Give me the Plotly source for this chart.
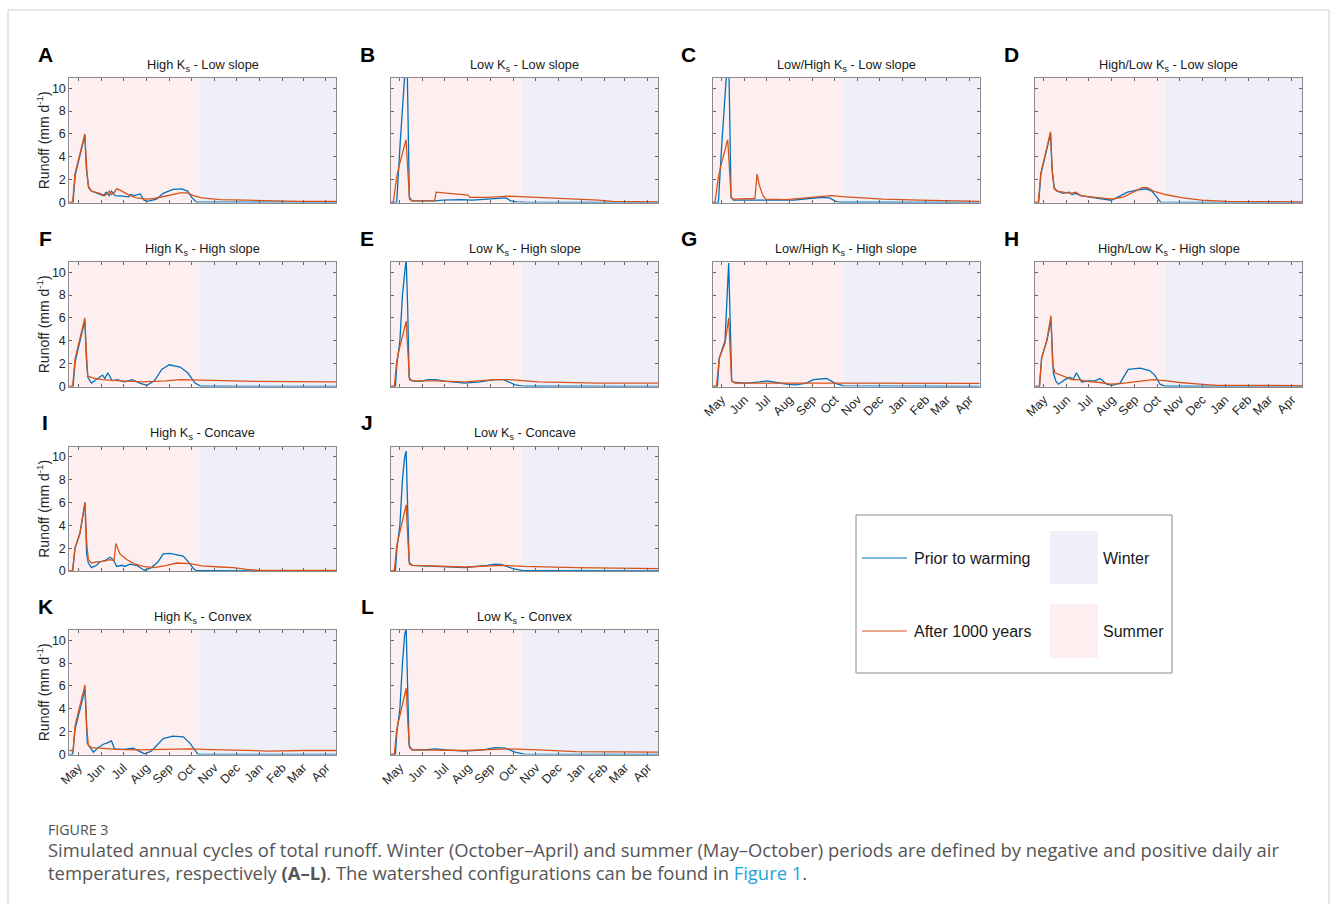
import plotly.graph_objects as go

# ---------------- data (day 0 = start of axis, ~19 April) ----------------
month_days = [12, 43, 73, 104, 135, 165, 196, 226, 257, 288, 316, 347]
month_labels = ["May", "Jun", "Jul", "Aug", "Sep", "Oct", "Nov", "Dec", "Jan", "Feb", "Mar", "Apr"]
y_ticks = [0, 2, 4, 6, 8, 10]
summer_end_day = 177
axis_end_day = 361

A_prior_day = [0, 5, 8, 14, 21, 23, 26, 30, 38, 46, 50, 54, 57, 62, 72, 80, 83, 88, 96, 101, 106, 118, 127, 140, 152, 160, 166, 172, 361]
A_prior_val = [0, 0, 2.4, 4.0, 5.9, 3.0, 1.4, 1.0, 0.8, 0.6, 0.9, 0.6, 1.0, 0.6, 0.55, 0.5, 0.7, 0.6, 0.75, 0.2, 0.1, 0.3, 0.8, 1.15, 1.2, 1.0, 0.4, 0.03, 0.02]
A_after_day = [0, 4.5, 7.7, 21, 24, 26, 30, 41, 48, 51, 54, 57, 61, 64, 68, 82, 91, 105, 115, 132, 150, 159, 168, 179, 204, 240, 271, 310, 361]
A_after_val = [0, 0, 2.5, 6.0, 2.5, 1.3, 1.0, 0.8, 0.6, 0.75, 1.0, 0.7, 0.9, 1.2, 1.1, 0.6, 0.4, 0.3, 0.35, 0.6, 0.85, 0.85, 0.6, 0.4, 0.25, 0.2, 0.15, 0.1, 0.1]

B_prior_day = [0, 7.7, 12.2, 15.8, 18.9, 22, 23.5, 24.8, 28, 45, 60, 70, 95, 110, 130, 150, 155, 162, 170, 180, 300, 361]
B_prior_val = [0, 0, 5, 9, 11.5, 11.5, 6, 0.5, 0.15, 0.12, 0.15, 0.2, 0.25, 0.2, 0.3, 0.4, 0.4, 0.15, 0.05, 0.03, 0.03, 0]
B_after_day = [0, 3, 7.7, 11, 20.3, 23, 25, 28, 59, 61, 80, 104, 107, 130, 160, 180, 230, 280, 300, 361]
B_after_val = [0, 0, 2.2, 3.2, 5.5, 2.0, 0.3, 0.15, 0.15, 0.9, 0.8, 0.65, 0.45, 0.45, 0.55, 0.5, 0.35, 0.2, 0.1, 0.05]

C_prior_day = [0, 7.7, 12.2, 15.8, 18.9, 22, 23.5, 24.8, 28, 50, 80, 110, 130, 150, 158, 165, 172, 361]
C_prior_val = [0, 0, 5, 9, 11.5, 11.5, 6, 0.5, 0.2, 0.2, 0.25, 0.2, 0.35, 0.45, 0.4, 0.15, 0.02, 0]
C_after_day = [0, 3, 7.7, 11, 20.3, 23, 25, 28, 45, 57, 60, 63, 68, 72, 100, 130, 160, 180, 230, 280, 361]
C_after_val = [0, 0, 2.2, 3.2, 5.5, 2.0, 0.4, 0.3, 0.3, 0.35, 2.5, 1.5, 0.6, 0.3, 0.25, 0.4, 0.6, 0.5, 0.3, 0.2, 0.1]

D_prior_day = [0, 5, 8, 14, 21, 23, 26, 30, 38, 46, 50, 55, 62, 72, 85, 95, 103, 110, 125, 140, 150, 158, 165, 170, 361]
D_prior_val = [0, 0, 2.5, 4.2, 6.0, 3.0, 1.3, 1.0, 0.8, 0.9, 0.7, 0.8, 0.6, 0.5, 0.4, 0.3, 0.2, 0.4, 0.9, 1.1, 1.2, 1.0, 0.4, 0.03, 0]
D_after_day = [0, 4.5, 7.7, 21, 23.5, 26, 30, 40, 48, 55, 62, 75, 90, 105, 120, 135, 145, 152, 160, 176, 200, 225, 260, 361]
D_after_val = [0, 0, 2.5, 6.2, 2.5, 1.2, 1.0, 0.9, 0.8, 0.9, 0.6, 0.5, 0.4, 0.3, 0.5, 1.0, 1.3, 1.3, 1.0, 0.7, 0.4, 0.2, 0.1, 0.05]

F_prior_day = [0, 5, 8, 14, 21, 23, 25, 30, 40, 45, 48, 52, 58, 65, 75, 85, 95, 105, 115, 125, 135, 150, 160, 170, 178, 361]
F_prior_val = [0, 0, 2.2, 3.8, 5.8, 2.5, 0.8, 0.3, 0.8, 1.0, 0.7, 1.2, 0.5, 0.6, 0.4, 0.6, 0.3, 0.1, 0.5, 1.5, 1.9, 1.7, 1.2, 0.3, 0.02, 0]
F_after_day = [0, 4.5, 7.7, 21, 23.5, 25, 35, 45, 70, 100, 130, 150, 180, 250, 361]
F_after_val = [0, 0, 2.4, 6.0, 2.5, 0.9, 0.7, 0.6, 0.5, 0.4, 0.5, 0.6, 0.55, 0.45, 0.4]

E_prior_day = [0, 6, 8, 12, 15.5, 18.5, 20.5, 22.5, 24.5, 28, 40, 50, 60, 75, 100, 120, 140, 152, 160, 168, 180, 361]
E_prior_val = [0, 0, 2, 4, 8, 10.5, 11.2, 7, 0.8, 0.5, 0.45, 0.6, 0.6, 0.45, 0.3, 0.4, 0.6, 0.6, 0.4, 0.15, 0.02, 0]
E_after_day = [0, 4.5, 7.7, 12, 20.5, 23, 25, 30, 60, 100, 140, 160, 200, 280, 361]
E_after_val = [0, 0, 2.2, 3.5, 5.7, 2.5, 0.6, 0.5, 0.5, 0.4, 0.6, 0.6, 0.4, 0.3, 0.3]

G_prior_day = [0, 6.3, 9, 16.7, 21.6, 23.5, 25.7, 30, 46, 64, 73, 86, 100, 112, 127, 136, 154, 165, 177, 361]
G_prior_val = [0, 0, 2.5, 4, 10.8, 5, 0.5, 0.35, 0.3, 0.4, 0.5, 0.35, 0.2, 0.15, 0.3, 0.6, 0.7, 0.3, 0.05, 0]
G_after_day = [0, 5, 9, 16.7, 21.6, 23.5, 25.5, 30, 110, 140, 180, 361]
G_after_val = [0, 0, 2.5, 3.8, 6, 2.5, 0.5, 0.3, 0.3, 0.35, 0.3, 0.27]

H_prior_day = [0, 6, 9, 16, 21.6, 24.8, 28, 31.6, 40.6, 47, 51.5, 56, 63, 72, 81, 88, 97, 104, 115, 126, 142, 155, 162, 169, 176, 361]
H_prior_val = [0, 0, 2.5, 4, 5.8, 1.2, 0.5, 0.2, 0.6, 0.8, 0.6, 1.2, 0.4, 0.5, 0.5, 0.7, 0.2, 0.1, 0.3, 1.5, 1.6, 1.4, 1.0, 0.2, 0.02, 0]
H_after_day = [0, 6, 9, 15.8, 21.6, 23.8, 27, 34, 43, 50, 58.6, 70, 88, 101, 115, 142, 160, 178, 196, 223, 245, 361]
H_after_val = [0, 0, 2.5, 4, 6.2, 2, 1.2, 1.0, 0.8, 0.6, 0.6, 0.45, 0.35, 0.2, 0.25, 0.45, 0.6, 0.5, 0.35, 0.2, 0.1, 0.08]

I_prior_day = [0, 4.5, 7.7, 14.4, 21.2, 23.4, 25.7, 30, 37, 41, 48, 55, 59.5, 64, 71, 75, 82, 91, 98, 102, 111, 120, 127, 136, 154, 161, 168, 172, 361]
I_prior_val = [0, 0, 2, 3.3, 6, 1.5, 0.7, 0.3, 0.5, 0.8, 0.9, 1.2, 1.0, 0.4, 0.5, 0.4, 0.6, 0.5, 0.2, 0.05, 0.3, 0.8, 1.5, 1.55, 1.3, 0.8, 0.2, 0.02, 0]
I_after_day = [0, 4.5, 7.7, 14.4, 21.2, 23.5, 25.7, 30, 37, 46, 55, 60.4, 63, 68.5, 77.5, 89, 100, 114, 132, 145, 163, 179, 204, 222, 240, 258, 361]
I_after_val = [0, 0, 2, 3.3, 6, 2.5, 1.0, 0.7, 0.8, 0.85, 1.0, 0.9, 2.4, 1.5, 1.0, 0.6, 0.4, 0.3, 0.5, 0.7, 0.65, 0.45, 0.35, 0.3, 0.15, 0.05, 0.05]

J_prior_day = [0, 6, 8, 12, 15.5, 18.5, 20.5, 22.5, 24.5, 28, 50, 70, 100, 130, 140, 150, 165, 180, 361]
J_prior_val = [0, 0, 2, 4, 8, 10, 10.5, 6, 0.8, 0.5, 0.45, 0.4, 0.3, 0.5, 0.6, 0.55, 0.2, 0.02, 0]
J_after_day = [0, 4.5, 7.7, 12, 20.5, 23, 25, 30, 60, 100, 150, 180, 250, 361]
J_after_val = [0, 0, 2.2, 3.5, 5.8, 2.5, 0.6, 0.5, 0.45, 0.35, 0.5, 0.4, 0.3, 0.2]

K_prior_day = [0, 4.5, 7.7, 14.4, 21.2, 24.3, 27.9, 32.5, 39, 46, 50.5, 57, 61, 68, 73, 86.6, 95, 102, 111, 118, 127, 140, 154, 163, 170, 174, 361]
K_prior_val = [0, 0, 2.2, 4, 5.7, 1.0, 0.6, 0.2, 0.6, 0.9, 1.0, 1.2, 0.5, 0.5, 0.45, 0.55, 0.3, 0.05, 0.3, 0.8, 1.4, 1.6, 1.55, 1.0, 0.3, 0.02, 0]
K_after_day = [0, 5.4, 7.7, 21.2, 23.5, 25.7, 30, 41, 64, 91, 136, 163, 181, 226, 271, 316, 361]
K_after_val = [0.35, 0.35, 2.5, 6.1, 2.5, 0.8, 0.6, 0.55, 0.45, 0.4, 0.45, 0.5, 0.45, 0.35, 0.3, 0.35, 0.35]

L_prior_day = [0, 6, 8, 12, 15.5, 18.5, 20.5, 22.5, 24.5, 28, 45, 60, 75, 100, 125, 140, 155, 168, 180, 361]
L_prior_val = [0, 0, 2, 4, 8, 10.5, 11, 6, 0.8, 0.4, 0.4, 0.5, 0.4, 0.3, 0.4, 0.6, 0.55, 0.2, 0.03, 0]
L_after_day = [0, 4.5, 7.7, 12, 20.5, 23, 25, 30, 60, 100, 140, 160, 200, 250, 361]
L_after_val = [0, 0, 2.2, 3.5, 5.8, 2.5, 0.6, 0.4, 0.4, 0.35, 0.45, 0.5, 0.4, 0.25, 0.2]

panel_letters = ["A", "B", "C", "D", "F", "E", "G", "H", "I", "J", "K", "L"]
panel_titles = [
    "High K<sub>s</sub> - Low slope", "Low K<sub>s</sub> - Low slope",
    "Low/High K<sub>s</sub> - Low slope", "High/Low K<sub>s</sub> - Low slope",
    "High K<sub>s</sub> - High slope", "Low K<sub>s</sub> - High slope",
    "Low/High K<sub>s</sub> - High slope", "High/Low K<sub>s</sub> - High slope",
    "High K<sub>s</sub> - Concave", "Low K<sub>s</sub> - Concave",
    "High K<sub>s</sub> - Convex", "Low K<sub>s</sub> - Convex",
]
prior_days = [A_prior_day, B_prior_day, C_prior_day, D_prior_day, F_prior_day, E_prior_day,
              G_prior_day, H_prior_day, I_prior_day, J_prior_day, K_prior_day, L_prior_day]
prior_vals = [A_prior_val, B_prior_val, C_prior_val, D_prior_val, F_prior_val, E_prior_val,
              G_prior_val, H_prior_val, I_prior_val, J_prior_val, K_prior_val, L_prior_val]
after_days = [A_after_day, B_after_day, C_after_day, D_after_day, F_after_day, E_after_day,
              G_after_day, H_after_day, I_after_day, J_after_day, K_after_day, L_after_day]
after_vals = [A_after_val, B_after_val, C_after_val, D_after_val, F_after_val, E_after_val,
              G_after_val, H_after_val, I_after_val, J_after_val, K_after_val, L_after_val]
panel_pos = [(0, 0), (0, 1), (0, 2), (0, 3), (1, 0), (1, 1), (1, 2), (1, 3), (2, 0), (2, 1), (3, 0), (3, 1)]
xlabel_panels = ["G", "H", "K", "L"]

legend_labels = ["Prior to warming", "After 1000 years", "Winter", "Summer"]

# ---------------- styling ----------------
W, H = 1331, 904
BLUE = "#0072BD"
ORANGE = "#D95319"
SUMMER = "#FDEFEF"
WINTER = "#EFEFF9"
FONT = "Liberation Sans, Arial, sans-serif"
col_left = [69.3, 391.0, 712.7, 1035.0]
col_w = 267.0
row_top = [78.0, 262.0, 446.5, 630.0]
row_h = 124.5


def px(x):
    return x / W


def py(y):
    return 1 - y / H


fig = go.Figure()
shapes = []
annotations = []

for i, letter in enumerate(panel_letters):
    r, c = panel_pos[i]
    k = i + 1
    xs = "" if k == 1 else str(k)
    left, top = col_left[c], row_top[r]
    fig.add_trace(go.Scatter(x=prior_days[i], y=prior_vals[i], mode="lines",
                             line=dict(color=BLUE, width=1.3), showlegend=False,
                             xaxis="x" + xs, yaxis="y" + xs))
    fig.add_trace(go.Scatter(x=after_days[i], y=after_vals[i], mode="lines",
                             line=dict(color=ORANGE, width=1.3), showlegend=False,
                             xaxis="x" + xs, yaxis="y" + xs))
    show_x = letter in xlabel_panels
    show_y = c == 0
    fig.update_layout(**{
        "xaxis" + xs: dict(
            domain=[px(left), px(left + col_w)], anchor="y" + xs, automargin=False,
            range=[0, axis_end_day], tickvals=month_days, ticktext=month_labels,
            showticklabels=show_x, tickangle=-45, ticks="inside", ticklen=3,
            tickcolor="#666", showline=True, linecolor="#8a8a8a", linewidth=1,
            mirror="ticks", showgrid=False, zeroline=False,
            tickfont=dict(size=12.5, color="#262626", family=FONT)),
        "yaxis" + xs: dict(
            domain=[py(top + row_h), py(top)], anchor="x" + xs, automargin=False,
            range=[0, 10.9], tickvals=y_ticks, showticklabels=show_y,
            ticks="inside", ticklen=3, tickcolor="#666", showline=True,
            linecolor="#8a8a8a", linewidth=1, mirror="ticks", showgrid=False,
            zeroline=False, tickfont=dict(size=12.5, color="#262626", family=FONT)),
    })
    shapes.append(dict(type="rect", xref="x" + xs, yref="y" + xs + " domain",
                       x0=0, x1=summer_end_day, y0=0, y1=1, fillcolor=SUMMER,
                       line=dict(width=0), layer="below"))
    shapes.append(dict(type="rect", xref="x" + xs, yref="y" + xs + " domain",
                       x0=summer_end_day, x1=axis_end_day, y0=0, y1=1, fillcolor=WINTER,
                       line=dict(width=0), layer="below"))
    annotations.append(dict(text=panel_titles[i], x=px(left + col_w / 2), y=py(top - 13),
                            xref="paper", yref="paper", showarrow=False,
                            xanchor="center", yanchor="middle",
                            font=dict(size=12.8, color="#1a1a1a", family=FONT)))
    annotations.append(dict(text="<b>" + letter + "</b>", x=px(left - 24), y=py(top - 24),
                            xref="paper", yref="paper", showarrow=False,
                            xanchor="center", yanchor="middle",
                            font=dict(size=21, color="#000", family=FONT)))
    if show_y:
        annotations.append(dict(text="Runoff (mm d<sup>-1</sup>)", x=px(43), y=py(top + row_h / 2),
                                xref="paper", yref="paper", showarrow=False, textangle=-90,
                                xanchor="center", yanchor="middle",
                                font=dict(size=14, color="#262626", family=FONT)))

# ---------------- legend box ----------------
shapes.append(dict(type="rect", xref="paper", yref="paper", x0=px(856), x1=px(1172),
                   y0=py(673), y1=py(515), line=dict(color="#8a8a8a", width=1),
                   fillcolor="white", layer="below"))
shapes.append(dict(type="line", xref="paper", yref="paper", x0=px(862), x1=px(907),
                   y0=py(558), y1=py(558), line=dict(color=BLUE, width=1)))
shapes.append(dict(type="line", xref="paper", yref="paper", x0=px(862), x1=px(907),
                   y0=py(631), y1=py(631), line=dict(color=ORANGE, width=1)))
shapes.append(dict(type="rect", xref="paper", yref="paper", x0=px(1050), x1=px(1098),
                   y0=py(584), y1=py(531), fillcolor=WINTER, line=dict(width=0)))
shapes.append(dict(type="rect", xref="paper", yref="paper", x0=px(1050), x1=px(1098),
                   y0=py(658), y1=py(604), fillcolor=SUMMER, line=dict(width=0)))
for txt, xx, yy in [(legend_labels[0], 912, 558), (legend_labels[1], 912, 631),
                    (legend_labels[2], 1101, 558), (legend_labels[3], 1101, 631)]:
    annotations.append(dict(text=txt, x=px(xx), y=py(yy), xref="paper", yref="paper",
                            showarrow=False, xanchor="left", yanchor="middle",
                            font=dict(size=16, color="#1a1a1a", family=FONT)))

# ---------------- outer frame and caption ----------------
shapes.append(dict(type="rect", xref="paper", yref="paper", x0=px(8), x1=px(1329),
                   y0=py(915), y1=py(10), line=dict(color="#cfcfcf", width=1), layer="below"))
CAP = "Open Sans, Noto Sans, sans-serif"
annotations.append(dict(text="FIGURE 3", x=px(46), y=py(829), xref="paper", yref="paper",
                        showarrow=False, xanchor="left", yanchor="middle",
                        font=dict(size=14.2, color="#4f4f4f", family=CAP)))
annotations.append(dict(
    text="Simulated annual cycles of total runoff. Winter (October\u2013April) and summer (May\u2013October) periods are defined by negative and positive daily air",
    x=px(46), y=py(849), xref="paper", yref="paper", showarrow=False,
    xanchor="left", yanchor="middle", font=dict(size=18.4, color="#555", family=CAP)))
annotations.append(dict(
    text="temperatures, respectively <b>(A\u2013L)</b>. The watershed configurations can be found in <span style='color:#1ba3d6'>Figure 1</span>.",
    x=px(46), y=py(872), xref="paper", yref="paper", showarrow=False,
    xanchor="left", yanchor="middle", font=dict(size=18.4, color="#555", family=CAP)))

fig.update_layout(width=W, height=H, margin=dict(l=0, r=0, t=0, b=0, pad=0, autoexpand=False),
                  paper_bgcolor="white", plot_bgcolor="white",
                  shapes=shapes, annotations=annotations, showlegend=False)
fig.write_html("out.html",
               post_script="document.body.style.margin='0';document.body.style.overflow='hidden';")
